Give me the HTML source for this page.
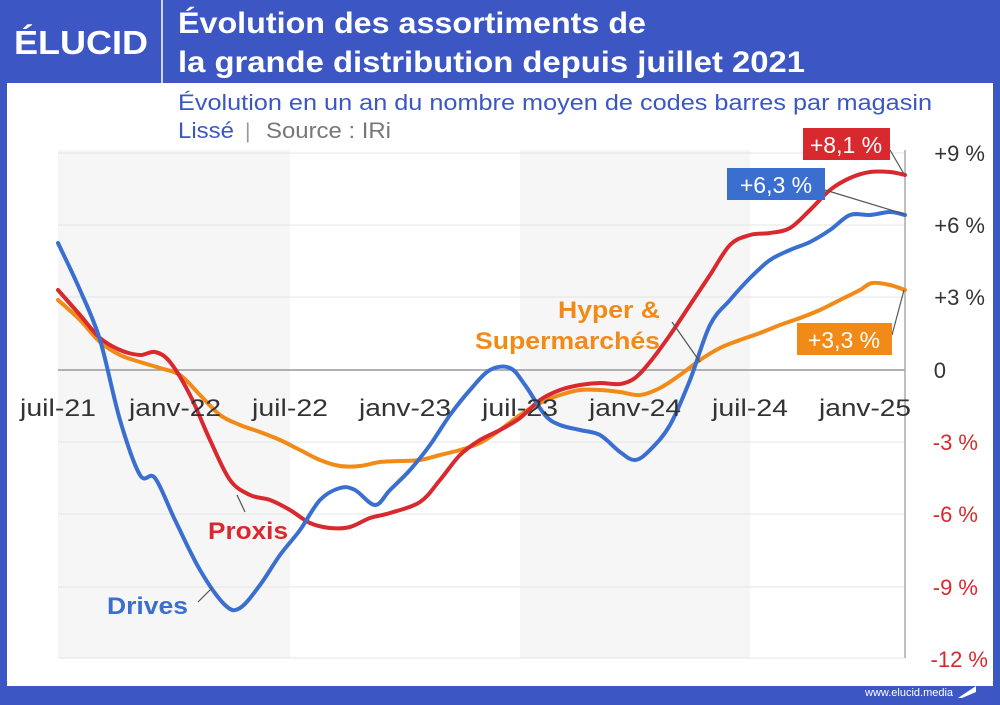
<!DOCTYPE html>
<html><head><meta charset="utf-8"><style>
body{margin:0;width:1000px;height:700px;overflow:hidden;background:#3c57c3;font-family:"Liberation Sans",sans-serif}
</style></head><body>
<svg width="1000" height="700" xmlns="http://www.w3.org/2000/svg" font-family="Liberation Sans, sans-serif">
<rect x="0" y="0" width="1000" height="700" fill="#3c57c3"/>
<rect x="7" y="83" width="986" height="603" fill="#fff"/>
<line x1="162" y1="0" x2="162" y2="83" stroke="#fff" stroke-width="1.5"/>
<text x="14" y="54" fill="#fff" font-size="33" font-weight="bold" textLength="134" lengthAdjust="spacingAndGlyphs">ÉLUCID</text>
<text x="178" y="33" fill="#fff" font-size="30" font-weight="bold" textLength="468" lengthAdjust="spacingAndGlyphs">Évolution des assortiments de</text>
<text x="178" y="72" fill="#fff" font-size="30" font-weight="bold" textLength="627" lengthAdjust="spacingAndGlyphs">la grande distribution depuis juillet 2021</text>
<text x="178" y="110" fill="#3c57c3" font-size="22" textLength="754" lengthAdjust="spacingAndGlyphs">Évolution en un an du nombre moyen de codes barres par magasin</text>
<text x="178" y="138" fill="#3c57c3" font-size="22" textLength="56" lengthAdjust="spacingAndGlyphs">Lissé</text>
<text x="245" y="138" fill="#999" font-size="21">|</text>
<text x="266" y="138" fill="#777" font-size="22" textLength="125" lengthAdjust="spacingAndGlyphs">Source : IRi</text>
<rect x="58" y="150" width="232" height="508" fill="#f6f6f6"/>
<rect x="520" y="150" width="230" height="508" fill="#f6f6f6"/>
<g stroke="#e4e4e4" stroke-width="1">
<line x1="58" y1="153" x2="905" y2="153"/><line x1="58" y1="225" x2="905" y2="225"/><line x1="58" y1="297" x2="905" y2="297"/>
<line x1="58" y1="442" x2="905" y2="442"/><line x1="58" y1="514" x2="905" y2="514"/><line x1="58" y1="587" x2="905" y2="587"/><line x1="58" y1="658" x2="905" y2="658"/>
</g>
<line x1="58" y1="370" x2="905" y2="370" stroke="#999" stroke-width="1.5"/>
<line x1="905" y1="150" x2="905" y2="658" stroke="#aaa" stroke-width="1.5"/>
<g id="lines" fill="none" stroke-width="4" stroke-linecap="round" stroke-linejoin="round"></g>
<g font-size="24" fill="#333" text-anchor="middle">
<text x="58" y="416" textLength="76" lengthAdjust="spacingAndGlyphs">juil-21</text>
<text x="175" y="416" textLength="92" lengthAdjust="spacingAndGlyphs">janv-22</text>
<text x="290" y="416" textLength="76" lengthAdjust="spacingAndGlyphs">juil-22</text>
<text x="405" y="416" textLength="92" lengthAdjust="spacingAndGlyphs">janv-23</text>
<text x="520" y="416" textLength="76" lengthAdjust="spacingAndGlyphs">juil-23</text>
<text x="635" y="416" textLength="92" lengthAdjust="spacingAndGlyphs">janv-24</text>
<text x="750" y="416" textLength="76" lengthAdjust="spacingAndGlyphs">juil-24</text>
<text x="865" y="416" textLength="92" lengthAdjust="spacingAndGlyphs">janv-25</text>
</g>
<g font-size="22" text-anchor="end">
<text x="985" y="161" fill="#333">+9 %</text><text x="985" y="233" fill="#333">+6 %</text><text x="985" y="305" fill="#333">+3 %</text>
<text x="946" y="378" fill="#333">0</text>
<text x="978" y="450" fill="#d8292f">-3 %</text><text x="978" y="522" fill="#d8292f">-6 %</text><text x="978" y="595" fill="#d8292f">-9 %</text><text x="988" y="667" fill="#d8292f">-12 %</text>
</g>
<g stroke="#555" stroke-width="1.2" fill="none">
<line x1="890" y1="150" x2="904" y2="174"/><line x1="825" y1="190" x2="904" y2="214"/><line x1="892" y1="335" x2="904" y2="290"/>
<line x1="672" y1="322" x2="700" y2="362"/><line x1="245" y1="512" x2="237" y2="495"/><line x1="198" y1="602" x2="212" y2="588"/>
</g>
<rect x="803" y="128" width="87" height="32" fill="#d8292f"/><text x="846" y="153" fill="#fff" font-size="23" text-anchor="middle">+8,1 %</text>
<rect x="727" y="168" width="98" height="32" fill="#3a6fd0"/><text x="776" y="193" fill="#fff" font-size="23" text-anchor="middle">+6,3 %</text>
<rect x="797" y="323" width="95" height="32" fill="#f28a17"/><text x="844" y="348" fill="#fff" font-size="23" text-anchor="middle">+3,3 %</text>
<text x="558" y="318" fill="#f28a17" font-size="24" font-weight="bold" textLength="102" lengthAdjust="spacingAndGlyphs">Hyper &amp;</text>
<text x="475" y="349" fill="#f28a17" font-size="24" font-weight="bold" textLength="185" lengthAdjust="spacingAndGlyphs">Supermarchés</text>
<text x="208" y="539" fill="#d8292f" font-size="24" font-weight="bold" textLength="80" lengthAdjust="spacingAndGlyphs">Proxis</text>
<text x="107" y="614" fill="#3a6fd0" font-size="24" font-weight="bold" textLength="81" lengthAdjust="spacingAndGlyphs">Drives</text>
<text x="865" y="696" fill="#fff" font-size="11">www.elucid.media</text>
<polygon points="958,698 976,686 976,692 962,698" fill="#fff"/>
</svg>
<script>
function cr(p){let d="M"+p[0][0]+","+p[0][1];for(let i=0;i<p.length-1;i++){const a=p[i-1]||p[i],b=p[i],c=p[i+1],e=p[i+2]||c;
d+=" C"+(b[0]+(c[0]-a[0])/6)+","+(b[1]+(c[1]-a[1])/6)+" "+(c[0]-(e[0]-b[0])/6)+","+(c[1]-(e[1]-b[1])/6)+" "+c[0]+","+c[1];}return d;}
const S={
"#f28a17":[[58,300],[80,320],[100,342],[120,355],[140,362],[160,368],[180,375],[200,395],[220,415],[240,425],[260,432],[280,440],[300,450],[320,460],[340,466],[360,466],[380,462],[400,461],[420,460],[440,455],[460,450],[480,443],[500,430],[520,415],[540,403],[560,395],[580,390],[600,390],[620,392],[640,395],[660,388],[680,375],[700,360],[720,348],[740,340],[760,333],[780,325],[800,318],[820,310],[840,300],[860,290],[872,283],[890,285],[905,290]],
"#d8292f":[[58,290],[80,315],[100,338],[120,350],[140,355],[155,352],[170,362],[190,395],[210,440],[230,480],[250,495],[270,500],[290,510],[310,523],[330,528],[350,527],[370,518],[390,513],[420,502],[440,480],[460,455],[480,440],[500,430],[520,418],[540,400],[560,390],[580,385],[600,383],[620,384],[635,378],[650,362],[670,335],[690,305],[710,275],[730,245],[750,235],[770,233],[790,228],[810,210],[830,190],[850,178],[870,172],[890,172],[905,175]],
"#3a6fd0":[[58,243],[80,290],[100,340],[120,420],[140,475],[155,478],[175,520],[200,570],[225,605],[240,608],[260,585],[280,555],[300,530],[320,500],[340,488],[355,490],[375,505],[390,490],[410,470],[430,445],[450,415],[470,390],[490,370],[510,368],[525,385],[545,415],[560,425],[580,430],[600,435],[620,452],[635,460],[650,450],[670,425],[690,380],[710,325],[730,300],[750,278],[770,260],[790,250],[810,242],[830,230],[850,215],[870,215],[890,212],[905,215]]};
const g=document.getElementById("lines");
for(const c in S){const p=document.createElementNS("http://www.w3.org/2000/svg","path");p.setAttribute("d",cr(S[c]));p.setAttribute("stroke",c);g.appendChild(p);}
</script>
</body></html>
